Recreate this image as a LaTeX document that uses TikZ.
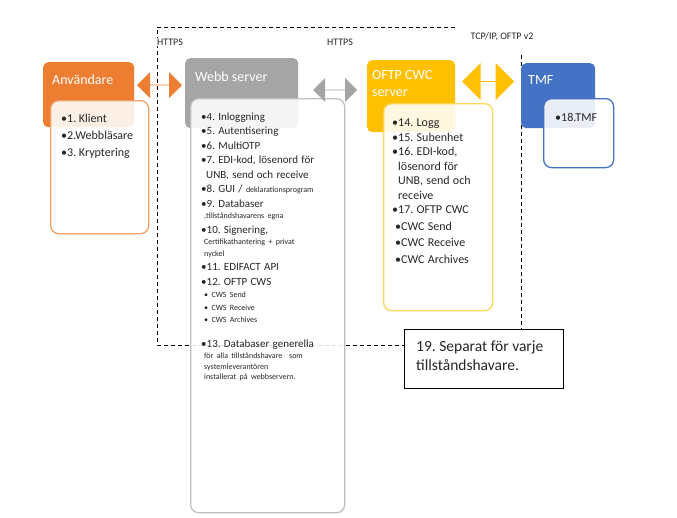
\documentclass[tikz,border=0pt]{standalone}
\usepackage{fontspec}
\setmainfont{Carlito}
\usetikzlibrary{shapes.arrows}

\definecolor{anvorange}{HTML}{ED7D31}
\definecolor{anvline}{HTML}{F0A06A}
\definecolor{webbgray}{HTML}{A5A5A5}
\definecolor{webbline}{HTML}{BFBFBF}
\definecolor{oftpyellow}{HTML}{FFC000}
\definecolor{oftpline}{HTML}{FFD55A}
\definecolor{tmfblue}{HTML}{4472C4}
\definecolor{txtdark}{HTML}{262626}

\setlength{\parindent}{0pt}
\frenchspacing
\newcommand{\listfont}{\fontsize{11}{14.5}\selectfont}
\newcommand{\notefont}{\fontsize{8}{11.5}\selectfont}

\begin{document}
\begin{tikzpicture}[
    x=1pt, y=-1pt,
    header/.style={
        rounded corners=5pt,
        anchor=north west,
        inner sep=0pt
    },
    listbox/.style={
        draw,
        line width=1.3pt,
        rounded corners=8pt,
        fill=white,
        fill opacity=0.88,
        anchor=north west,
        inner sep=0pt
    },
    headtext/.style={
        text=white,
        font=\fontsize{14}{17}\selectfont,
        inner sep=0pt,
        align=left
    },
    listtext/.style={
        text=txtdark,
        inner sep=0pt,
        anchor=north west,
        align=left
    },
    link/.style={
        double arrow,
        draw=none,
        inner sep=0pt,
        anchor=center
    },
    proto/.style={
        font=\fontsize{10}{12}\selectfont,
        text=txtdark,
        fill=white,
        inner sep=1pt
    },
    border/.style={
        dash pattern=on 4pt off 3pt,
        line width=0.8pt
    }
]
    \useasboundingbox (0,0) rectangle (677,517);

    % --- Dashed border ---
    \coordinate (tl) at (157,27);
    \coordinate (tr) at (455,27);
    \coordinate (bl) at (157,345);
    \coordinate (br) at (405,345);
    \coordinate (rt) at (521,55);
    \coordinate (rb) at (521,329);
    \draw[border] (tr) -- (tl) -- (bl) -- (br);
    \draw[border] (rt) -- (rb);

    % --- Protocol labels ---
    \node[proto] (https1) at (170,42) {HTTPS};
    \node[proto] (https2) at (340,42) {HTTPS};
    \node[proto] (tcpip) at (502,37) {TCP/IP, OFTP v2};

    % --- Användare ---
    \node[header, fill=anvorange, minimum width=91pt, minimum height=65pt] (anv) at (43,62) {};
    \node[headtext, anchor=west] (anvhead) at (52,80) {Användare};
    \node[listbox, draw=anvline, minimum width=98pt, minimum height=133pt] (anvlist) at (50,100) {};
    \node[listtext, font=\fontsize{12}{17}\selectfont] (anvtxt) at (61,113.5) {•1. Klient\\•2.Webbläsare\\•3. Kryptering};

    % --- Webb server ---
    \node[header, fill=webbgray, minimum width=113pt, minimum height=70pt] (webb) at (185,58) {};
    \node[headtext, anchor=west] (webbhead) at (195,77) {Webb server};
    \node[listbox, draw=webbline, minimum width=154pt, minimum height=414pt] (webblist) at (190,98) {};
    \node[listtext, text width=142pt] (webbtxt) at (201,112.5) {%
        \listfont •4. Inloggning\par
        \listfont •5. Autentisering\par
        \listfont •6. MultiOTP\par
        \listfont •7. EDI-kod, lösenord för\par
        \listfont \hspace*{5pt}UNB, send och receive\par
        \listfont •8. GUI / {\notefont deklarationsprogram}\par
        \listfont •9. Databaser\par
        \notefont \hspace*{3pt},tillståndshavarens egna\par
        \listfont •10. Signering,\par
        \notefont \hspace*{3pt}Certifikathantering + privat\par
        \notefont \hspace*{3pt}nyckel\par
        \listfont •11. EDIFACT API\par
        \listfont •12. OFTP CWS\par
        \fontsize{8}{12.5}\selectfont \hspace*{3pt}• CWS Send\par
        \fontsize{8}{12.5}\selectfont \hspace*{3pt}• CWS Receive\par
        \fontsize{8}{12.5}\selectfont \hspace*{3pt}• CWS Archives\par
        \vspace{10pt}
        \listfont •13. Databaser generella\par
        \notefont \hspace*{3pt}för alla tillståndshavare\ \ som\par
        \fontsize{8}{10.5}\selectfont \hspace*{3pt}systemleverantören\par
        \fontsize{8}{10.5}\selectfont \hspace*{3pt}installerat på webbservern.\par
    };

    % --- OFTP CWC server ---
    \node[header, fill=oftpyellow, minimum width=88pt, minimum height=72pt] (oftp) at (367,60) {};
    \node[headtext, anchor=north west] (oftphead) at (372,70) {OFTP CWC\\server};
    \node[listbox, draw=oftpline, minimum width=109pt, minimum height=207pt] (oftplist) at (383,103) {};
    \node[listtext, text width=100pt] (oftptxt) at (392,119) {%
        \fontsize{12}{14.5}\selectfont •14. Logg\par
        •15. Subenhet\par
        •16. EDI-kod,\par
        \hspace*{6pt}lösenord för\par
        \hspace*{6pt}UNB, send och\par
        \hspace*{6pt}receive\par
        •17. OFTP CWC\par
        \fontsize{12}{16.5}\selectfont
        \hspace*{3pt}•CWC Send\par
        \hspace*{3pt}•CWC Receive\par
        \hspace*{3pt}•CWC Archives\par
    };

    % --- TMF ---
    \node[header, fill=tmfblue, minimum width=74pt, minimum height=65pt] (tmf) at (521,63) {};
    \node[headtext, anchor=west] (tmfhead) at (528,80) {TMF};
    \node[listbox, draw=tmfblue, minimum width=70pt, minimum height=69pt] (tmflist) at (543,98) {};
    \node[listtext, anchor=west, font=\fontsize{12}{14}\selectfont] (tmftxt) at (555,117) {•18.TMF};

    % --- Links between the boxes ---
    \node[link, fill=anvorange, minimum height=45pt, minimum width=26pt, double arrow head extend=6pt] (anvwebb) at (159.5,85) {};
    \node[link, fill=webbgray, minimum height=44pt, minimum width=24pt, double arrow head extend=5.5pt] (webboftp) at (335,90) {};
    \node[link, fill=oftpyellow, minimum height=52pt, minimum width=37pt, double arrow head extend=8pt] (oftptmf) at (488,81.5) {};

    % --- Note ---
    \node[draw, line width=0.8pt, fill=white, anchor=north west, minimum width=159pt, minimum height=59pt, inner sep=0pt] (note) at (404,329) {};
    \node[listtext, font=\fontsize{15.5}{18.5}\selectfont] (notetxt) at (416,341) {19. Separat för varje\\tillståndshavare.};
\end{tikzpicture}
\end{document}
